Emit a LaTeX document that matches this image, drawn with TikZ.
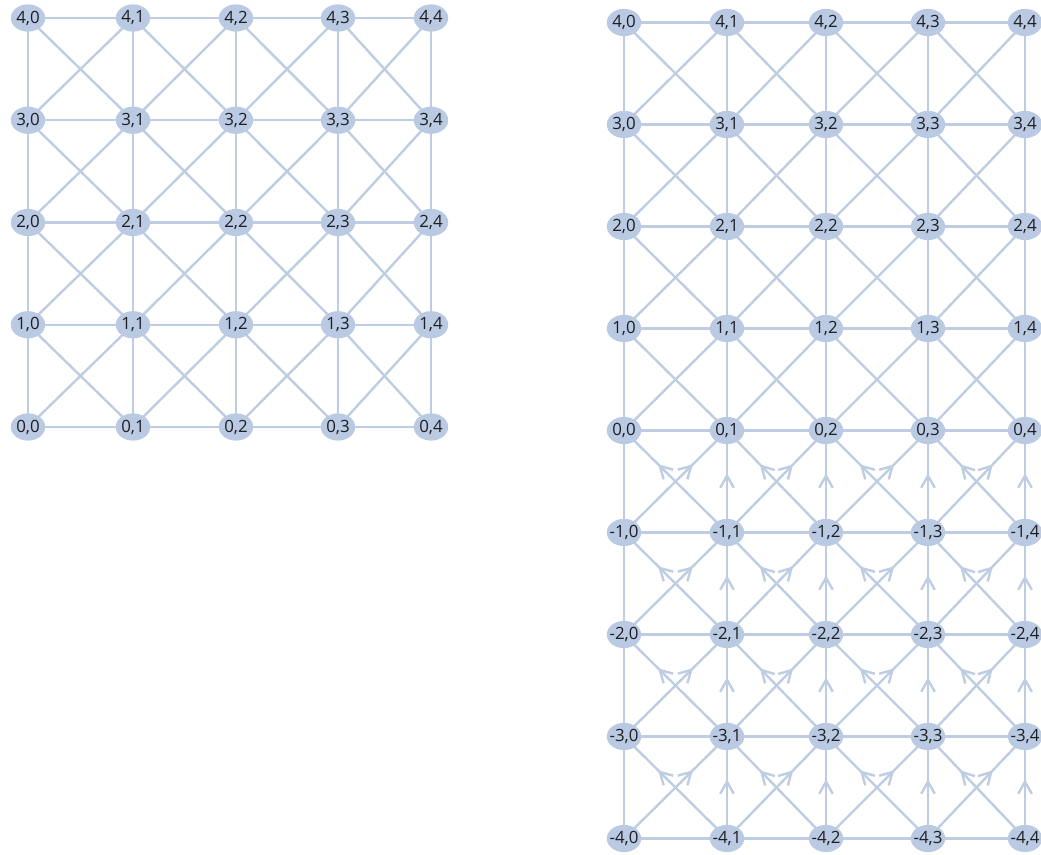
\documentclass[tikz,border=0pt]{standalone}
\usepackage{fontspec}
\setmainfont{Open Sans}
\usepackage{tikz}
\usetikzlibrary{shapes.geometric,arrows.meta,decorations.markings,backgrounds}
\definecolor{nodecolor}{RGB}{185,202,226}
\definecolor{edgecolor}{RGB}{190,205,226}
\definecolor{txtcolor}{RGB}{30,30,35}

\begin{document}
\begin{tikzpicture}[
  x=0.025cm, y=-0.025cm,
  vert/.style   = {ellipse, fill=nodecolor, minimum width=0.86cm,
                   minimum height=0.68cm, inner sep=0pt,
                   font=\fontsize{12}{12}\selectfont, text=txtcolor},
  edge/.style   = {draw=edgecolor, line width=0.06cm},
  upedge/.style = {edge, postaction={decorate},
                   decoration={markings, mark=at position #1 with
                     {\arrow[edgecolor]{Straight Barb[length=0.3cm,width=0.34cm]}}}}
]
\useasboundingbox (0,0) rectangle (1041,855);

% left grid
\foreach \c/\x in {0/28,1/133,2/236,3/338,4/431}
  \foreach \r in {0,...,4}
    \node[vert] (l\r-\c) at (\x, {427-102.25*\r}) {\makebox[0pt]{\r,\c}};

% right grid
\foreach \c/\x in {0/624,1/727,2/826,3/928,4/1025}
  \foreach \r in {-4,...,4}
    \node[vert] (r\r-\c) at (\x, {430.5-102*\r}) {\makebox[0pt]{\r,\c}};

\begin{scope}[on background layer]
% left edges
\foreach \r in {0,...,4}
  \foreach \c [count=\cn] in {0,...,3}
    \draw[edge] (l\r-\c.center) -- (l\r-\cn.center);
\foreach \r [count=\rn] in {0,...,3}{
  \foreach \c in {0,...,4}
    \draw[edge] (l\r-\c.center) -- (l\rn-\c.center);
  \foreach \c [count=\cn] in {0,...,3}{
    \draw[edge] (l\r-\c.center) -- (l\rn-\cn.center);
    \draw[edge] (l\r-\cn.center) -- (l\rn-\c.center);
  }
}

% right edges, upper half
\foreach \r in {-4,...,4}
  \foreach \c [count=\cn] in {0,...,3}
    \draw[edge] (r\r-\c.center) -- (r\r-\cn.center);
\foreach \r [count=\rn] in {0,...,3}{
  \foreach \c in {0,...,4}
    \draw[edge] (r\r-\c.center) -- (r\rn-\c.center);
  \foreach \c [count=\cn] in {0,...,3}{
    \draw[edge] (r\r-\c.center) -- (r\rn-\cn.center);
    \draw[edge] (r\r-\cn.center) -- (r\rn-\c.center);
  }
}

% right edges, lower half (pointing up)
\foreach \r [evaluate=\r as \rn using int(\r+1)] in {-4,...,-1}{
  \draw[edge] (r\r-0.center) -- (r\rn-0.center);
  \foreach \c in {1,...,4}
    \draw[upedge=0.58] (r\r-\c.center) -- (r\rn-\c.center);
  \foreach \c [count=\cn] in {0,...,3}{
    \draw[upedge=0.67] (r\r-\c.center) -- (r\rn-\cn.center);
    \draw[upedge=0.67] (r\r-\cn.center) -- (r\rn-\c.center);
  }
}
\end{scope}
\end{tikzpicture}
\end{document}
